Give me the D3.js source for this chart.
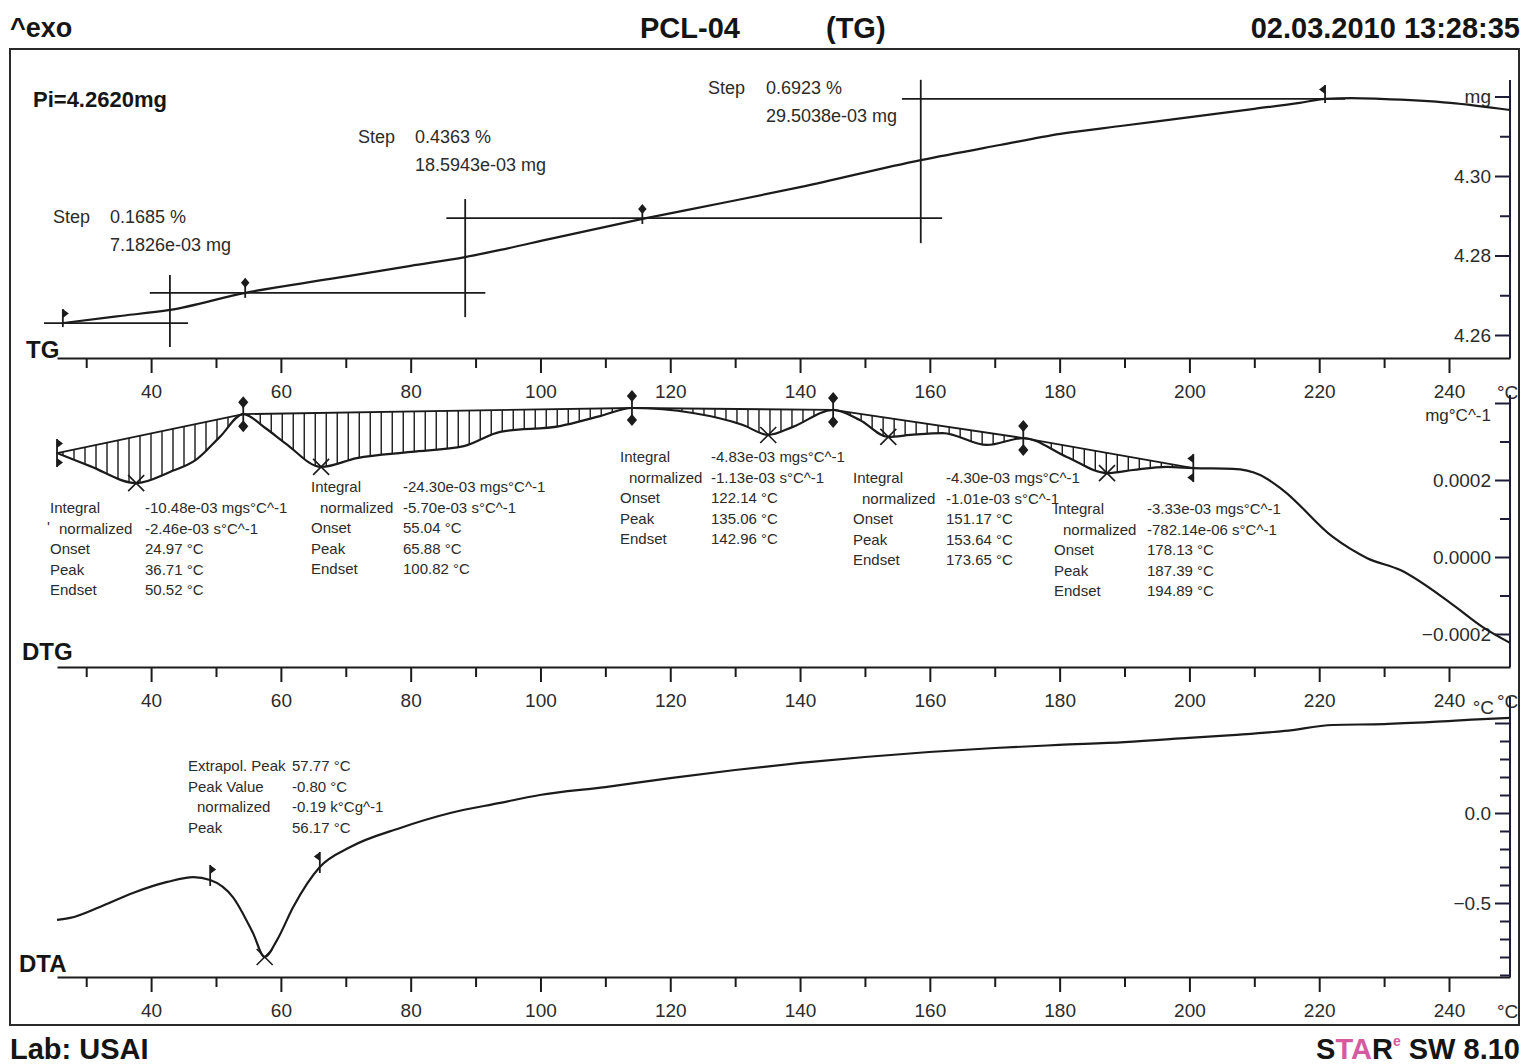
<!DOCTYPE html>
<html>
<head>
<meta charset="utf-8">
<script src="https://cdn.jsdelivr.net/npm/d3@7"></script>
<style>
  body { margin: 0; background: #fff; }
  svg { display: block; }
  text { font-family: "Liberation Sans", Arial, Helvetica, sans-serif; }
</style>
</head>
<body>
<svg id="chart" width="1527" height="1064"></svg>
<script>
// TG: sample mass (mg) against temperature (°C)
const tgTemp = [26.4, 34.7, 42.9, 54.5, 67.6, 80.0, 88.4, 93.8, 101.5, 115.7, 128.0, 140.0, 158.6, 170.8, 180.1, 190.0, 200.1, 210.0, 217.0, 220.9, 225.0, 229.4, 240.2, 249.4];
const tgMass = [4.2630, 4.2647, 4.2663, 4.2706, 4.2741, 4.2774, 4.2796, 4.2814, 4.2842, 4.2892, 4.2932, 4.2972, 4.3040, 4.3078, 4.3106, 4.3127, 4.3148, 4.3169, 4.3184, 4.3194, 4.3196, 4.3194, 4.3184, 4.3166];

// DTG: first derivative of the mass (mg/°C)
const dtgTemp = [25.5, 30.6, 37.7, 42.9, 46.9, 50.6, 54.2, 57.6, 60.8, 66.2, 71.7, 80.1, 88.2, 93.8, 103.0, 109.2, 114.1, 123.5, 131.2, 135.1, 138.9, 145.1, 149.2, 153.6, 157.0, 162.0, 168.8, 174.4, 181.1, 187.3, 191.3, 196.5, 200.6, 206.7, 210.9, 214.4, 222.1, 227.4, 232.5, 240.2, 245.2, 249.4];
const dtgRate = [2.70e-4, 2.36e-4, 1.92e-4, 2.21e-4, 2.52e-4, 3.12e-4, 3.71e-4, 3.35e-4, 2.94e-4, 2.34e-4, 2.57e-4, 2.73e-4, 2.88e-4, 3.25e-4, 3.40e-4, 3.66e-4, 3.87e-4, 3.74e-4, 3.43e-4, 3.17e-4, 3.38e-4, 3.82e-4, 3.56e-4, 3.12e-4, 3.17e-4, 3.22e-4, 2.91e-4, 3.09e-4, 2.60e-4, 2.18e-4, 2.26e-4, 2.34e-4, 2.31e-4, 2.29e-4, 2.13e-4, 1.74e-4, 0.52e-4, -0.03e-4, -0.34e-4, -1.19e-4, -1.82e-4, -2.23e-4];

// DTA: temperature difference (°C)
const dtaTemp = [25.5, 27.5, 32.1, 37.2, 42.5, 46.5, 49.1, 52.6, 55.7, 57.5, 59.4, 61.9, 66.0, 70.7, 78.4, 86.1, 93.8, 99.9, 110.0, 120.0, 130.0, 140.0, 150.0, 159.9, 170.0, 179.9, 190.0, 199.9, 206.6, 214.7, 222.1, 230.0, 237.5, 245.2, 249.4];
const dtaSignal = [-0.594, -0.583, -0.522, -0.444, -0.383, -0.356, -0.372, -0.467, -0.667, -0.800, -0.706, -0.522, -0.300, -0.189, -0.083, 0.000, 0.056, 0.100, 0.144, 0.194, 0.239, 0.278, 0.311, 0.339, 0.361, 0.378, 0.394, 0.417, 0.433, 0.456, 0.489, 0.494, 0.506, 0.522, 0.528];

// axis ticks
const xMajorTicks = [40, 60, 80, 100, 120, 140, 160, 180, 200, 220, 240];
const xMinorTicks = [30, 50, 70, 90, 110, 130, 150, 170, 190, 210, 230];
const tgMajorTicks = [4.26, 4.28, 4.30, 4.32];
const tgMinorTicks = [4.27, 4.29, 4.31];
const dtgMajorTicks = [-0.0002, 0.0000, 0.0002, 0.0004];
const dtgMinorTicks = [-0.0001, 0.0001, 0.0003];
const dtaMajorTicks = [-0.5, 0.0, 0.5];
const dtaMinorTicks = [-0.9, -0.8, -0.7, -0.6, -0.4, -0.3, -0.2, -0.1, 0.1, 0.2, 0.3, 0.4];

// TG step evaluation
const tgFlags = [26.4, 220.9];
const tgInflections = [54.5, 115.7];
const tgStepLevels = [4.2630, 4.2706, 4.2894, 4.3194];
const tgLevelSpans = [[23.5, 45.7], [39.8, 91.5], [85.5, 161.9], [155.7, 224.0]];
const tgStepTemps = [42.9, 88.4, 158.6];
const tgStepSpans = [[4.2570, 4.2751], [4.2645, 4.2942], [4.2831, 4.3242]];
const tgStepPercent = ["0.1685 %", "0.4363 %", "0.6923 %"];
const tgStepMass = ["7.1826e-03 mg", "18.5943e-03 mg", "29.5038e-03 mg"];

// DTG peak integration
const dtgLimits = [25.5, 54.2, 114.1, 145.1, 174.4, 200.6];
const dtgPeaks = [37.7, 66.2, 135.1, 153.6, 187.3];
const dtgRowNames = ["Integral", "normalized", "Onset", "Peak", "Endset"];
const dtgIntegral = ["-10.48e-03 mgs°C^-1", "-24.30e-03 mgs°C^-1", "-4.83e-03 mgs°C^-1", "-4.30e-03 mgs°C^-1", "-3.33e-03 mgs°C^-1"];
const dtgNormalized = ["-2.46e-03 s°C^-1", "-5.70e-03 s°C^-1", "-1.13e-03 s°C^-1", "-1.01e-03 s°C^-1", "-782.14e-06 s°C^-1"];
const dtgOnset = ["24.97 °C", "55.04 °C", "122.14 °C", "151.17 °C", "178.13 °C"];
const dtgPeak = ["36.71 °C", "65.88 °C", "135.06 °C", "153.64 °C", "187.39 °C"];
const dtgEndset = ["50.52 °C", "100.82 °C", "142.96 °C", "173.65 °C", "194.89 °C"];

// DTA peak evaluation
const dtaFlags = [49.1, 66.0];
const dtaPeakTemp = 57.5;
const dtaRowNames = ["Extrapol. Peak", "Peak Value", "normalized", "Peak"];
const dtaResults = ["57.77 °C", "-0.80 °C", "-0.19 k°Cg^-1", "56.17 °C"];

// ---------------------------------------------------------------------------

const ink = "#1b1b1b";
const textInk = "#2b2b2b";
const svg = d3.select("#chart");

const x = d3.scaleLinear().domain([25.5, 249.4]).range([57, 1510]);
const yTG = d3.scaleLinear().domain([4.26, 4.32]).range([335, 96.5]);
const yDTG = d3.scaleLinear().domain([-0.0002, 0.0002]).range([634, 480]);
const yDTA = d3.scaleLinear().domain([-0.5, 0.0]).range([903, 813]);

// frame
svg.append("rect")
  .attr("x", 10).attr("y", 49).attr("width", 1509).attr("height", 976)
  .attr("fill", "none").attr("stroke", "#2a2a2a").attr("stroke-width", 2);

// header / footer
function bold(txt, px, py, size, anchor) {
  return svg.append("text")
    .attr("x", px).attr("y", py)
    .attr("font-size", size).attr("font-weight", "bold")
    .attr("text-anchor", anchor || "start")
    .attr("fill", "#151515")
    .text(txt);
}
bold("^exo", 10, 37, 27);
bold("PCL-04", 640, 38, 29);
bold("(TG)", 826, 38, 29);
bold("02.03.2010 13:28:35", 1520, 38, 29, "end");
bold("Lab: USAI", 10, 1059, 29);
bold("Pi=4.2620mg", 33, 107, 22);
bold("TG", 26, 358, 24);
bold("DTG", 22, 660, 24);
bold("DTA", 19, 972, 24);

const star = svg.append("text")
  .attr("x", 1520).attr("y", 1059).attr("text-anchor", "end")
  .attr("font-size", 29).attr("font-weight", "bold").attr("fill", "#151515");
star.append("tspan").text("S");
star.append("tspan").attr("fill", "#d65a9f").text("TA");
star.append("tspan").text("R");
star.append("tspan").attr("fill", "#d65a9f").attr("font-size", 14).attr("dy", -13).text("e");
star.append("tspan").attr("dy", 13).text(" SW 8.10");

// bottom temperature axes
function bottomAxis(axisY) {
  const g = svg.append("g").attr("transform", `translate(0,${axisY})`);
  g.append("g").call(d3.axisBottom(x).tickValues(xMinorTicks).tickSize(10).tickFormat(""))
    .call(a => a.select(".domain").remove());
  g.append("g").call(d3.axisBottom(x).tickValues(xMajorTicks).tickSize(15).tickSizeOuter(0).tickPadding(12).tickFormat(d3.format("d")));
  g.selectAll("line, path").attr("stroke", ink).attr("stroke-width", 2);
  g.selectAll("text").attr("font-size", 19).attr("fill", textInk);
  g.selectAll("g").attr("font-family", null);
  g.append("text").attr("x", 1497).attr("y", 41).attr("font-size", 19).attr("fill", textInk).text("°C");
  return g;
}
bottomAxis(358);
bottomAxis(667);
bottomAxis(977);

// right value axes
function rightAxis(scale, majors, minors, fmt, top, bottom) {
  const g = svg.append("g").attr("transform", "translate(1510,0)");
  g.append("g").call(d3.axisLeft(scale).tickValues(minors).tickSize(10).tickFormat(""))
    .call(a => a.select(".domain").remove());
  g.append("g").call(d3.axisLeft(scale).tickValues(majors).tickSize(15).tickPadding(4).tickFormat(fmt))
    .call(a => a.select(".domain").remove());
  g.append("line").attr("x1", 0).attr("x2", 0).attr("y1", top).attr("y2", bottom);
  g.selectAll("line").attr("stroke", "#1d1d3a").attr("stroke-width", 2);
  g.selectAll("text").attr("font-size", 19).attr("fill", textInk);
  g.selectAll("g").attr("font-family", null);
  return g;
}
rightAxis(yTG, tgMajorTicks, tgMinorTicks,
  d => d > 4.315 ? "mg" : d3.format(".2f")(d), 80, 358);
const dtgAxis = rightAxis(yDTG, dtgMajorTicks, dtgMinorTicks,
  d => d > 0.00035 ? "mg°C^-1" : d3.format(".4f")(d), 395, 667);
// the unit label sits just under the temperature label "240"
dtgAxis.selectAll(".tick text").filter(d => d > 0.00035)
  .attr("font-size", 17).attr("dy", "1.05em");
rightAxis(yDTA, dtaMajorTicks, dtaMinorTicks,
  d => d > 0.4 ? "" : d3.format(".1f")(d), 697, 977);
svg.append("text").attr("x", 1494).attr("y", 714).attr("text-anchor", "end")
  .attr("font-size", 19).attr("fill", textInk).text("°C");

// curves
function curve(temps, values, yScale) {
  return svg.append("path")
    .datum(d3.zip(temps, values))
    .attr("fill", "none").attr("stroke", ink).attr("stroke-width", 2.2)
    .attr("d", d3.line().x(d => x(d[0])).y(d => yScale(d[1])).curve(d3.curveMonotoneX));
}
const tgPath = curve(tgTemp, tgMass, yTG).node();
const dtgPath = curve(dtgTemp, dtgRate, yDTG).node();
const dtaPath = curve(dtaTemp, dtaSignal, yDTA).node();

// screen y of a drawn curve at a given screen x
function pathYAt(node, px) {
  let lo = 0, hi = node.getTotalLength();
  for (let k = 0; k < 30; k++) {
    const mid = (lo + hi) / 2;
    if (node.getPointAtLength(mid).x < px) lo = mid; else hi = mid;
  }
  return node.getPointAtLength(lo).y;
}

const marks = svg.append("g").attr("stroke", ink).attr("fill", ink).attr("stroke-width", 1.8);

function diamond(cx, cy, r) {
  marks.append("path").attr("stroke", "none")
    .attr("d", `M${cx},${cy - r}L${cx + r * 0.85},${cy}L${cx},${cy + r}L${cx - r * 0.85},${cy}Z`);
}
function pennant(cx, tipY, dir, dy) {
  marks.append("path").attr("stroke", "none")
    .attr("d", `M${cx},${tipY}L${cx + dir * 6},${tipY + dy * 0.5}L${cx},${tipY + dy}Z`);
}
function vline(px, y1, y2) {
  marks.append("line").attr("x1", px).attr("x2", px).attr("y1", y1).attr("y2", y2);
}
function cross(cx, cy, r) {
  marks.append("path").attr("fill", "none").attr("stroke-width", 1.6)
    .attr("d", `M${cx - r},${cy - r}L${cx + r},${cy + r}M${cx - r},${cy + r}L${cx + r},${cy - r}`);
}

// TG step construction lines
tgLevelSpans.forEach((s, i) => {
  marks.append("line")
    .attr("x1", x(s[0])).attr("x2", x(s[1]))
    .attr("y1", yTG(tgStepLevels[i])).attr("y2", yTG(tgStepLevels[i]));
});
tgStepTemps.forEach((t, i) => vline(x(t), yTG(tgStepSpans[i][1]), yTG(tgStepSpans[i][0])));
tgFlags.forEach((t, i) => {
  const px = x(t), py = pathYAt(tgPath, px);
  vline(px, py - 14, py + 4);
  pennant(px, py - 14, i === 0 ? 1 : -1, 9);
});
tgInflections.forEach(t => {
  const px = x(t), py = pathYAt(tgPath, px);
  vline(px, py - 8, py + 5);
  diamond(px, py - 10, 5);
});

// TG step texts
const stepTextPos = [[53, 110, 217], [358, 415, 137], [708, 766, 88]];
stepTextPos.forEach((p, i) => {
  const g = svg.append("g").attr("font-size", 18).attr("fill", textInk);
  g.append("text").attr("x", p[0]).attr("y", p[2] + 6).text("Step");
  g.append("text").attr("x", p[1]).attr("y", p[2] + 6).text(tgStepPercent[i]);
  g.append("text").attr("x", p[1]).attr("y", p[2] + 34).text(tgStepMass[i]);
});

// DTG integration: chord baselines and hatching
const hatch = svg.append("g").attr("stroke", ink).attr("stroke-width", 1.4);
for (let i = 0; i < dtgLimits.length - 1; i++) {
  const x0 = x(dtgLimits[i]), x1 = x(dtgLimits[i + 1]);
  const y0 = pathYAt(dtgPath, x0), y1 = pathYAt(dtgPath, x1);
  hatch.append("line").attr("x1", x0).attr("y1", y0).attr("x2", x1).attr("y2", y1).attr("stroke-width", 1.8);
  for (let px = x0 + 6; px < x1 - 3; px += 11) {
    const base = y0 + (y1 - y0) * (px - x0) / (x1 - x0);
    hatch.append("line").attr("x1", px).attr("x2", px).attr("y1", base).attr("y2", pathYAt(dtgPath, px));
  }
}
dtgLimits.forEach((t, i) => {
  const px = x(t), py = pathYAt(dtgPath, px);
  vline(px, py - 14, py + 14);
  if (i === 0 || i === dtgLimits.length - 1) {
    const dir = i === 0 ? 1 : -1;
    pennant(px, py - 14, dir, 9);
    pennant(px, py + 14, dir, -9);
  } else {
    diamond(px, py - 12, 6);
    diamond(px, py + 12, 6);
  }
});
dtgPeaks.forEach(t => {
  const px = x(t);
  cross(px, pathYAt(dtgPath, px), 8);
});

// DTG result blocks
const dtgBlockPos = [[50, 145, 508], [311, 403, 487], [620, 711, 457], [853, 946, 478], [1054, 1147, 509]];
dtgBlockPos.forEach((p, i) => {
  const g = svg.append("g").attr("font-size", 15).attr("fill", textInk);
  const values = [dtgIntegral[i], dtgNormalized[i], dtgOnset[i], dtgPeak[i], dtgEndset[i]];
  dtgRowNames.forEach((name, r) => {
    const ry = p[2] + r * 20.6 + 5;
    g.append("text").attr("x", p[0] + (r === 1 ? 9 : 0)).attr("y", ry).text(name);
    g.append("text").attr("x", p[1]).attr("y", ry).text(values[r]);
  });
  if (i === 0) g.append("text").attr("x", 47).attr("y", p[2] + 20.6 + 3).text("'");
});

// DTA peak marks
dtaFlags.forEach((t, i) => {
  const px = x(t), py = pathYAt(dtaPath, px);
  vline(px, py - 15, py + 6);
  pennant(px, py - 15, i === 0 ? 1 : -1, 9);
});
cross(x(dtaPeakTemp), pathYAt(dtaPath, x(dtaPeakTemp)), 8);

const dtaBlock = svg.append("g").attr("font-size", 15).attr("fill", textInk);
dtaRowNames.forEach((name, r) => {
  const ry = 766 + r * 20.6 + 5;
  dtaBlock.append("text").attr("x", 188 + (r === 2 ? 9 : 0)).attr("y", ry).text(name);
  dtaBlock.append("text").attr("x", 292).attr("y", ry).text(dtaResults[r]);
});
</script>
</body>
</html>
